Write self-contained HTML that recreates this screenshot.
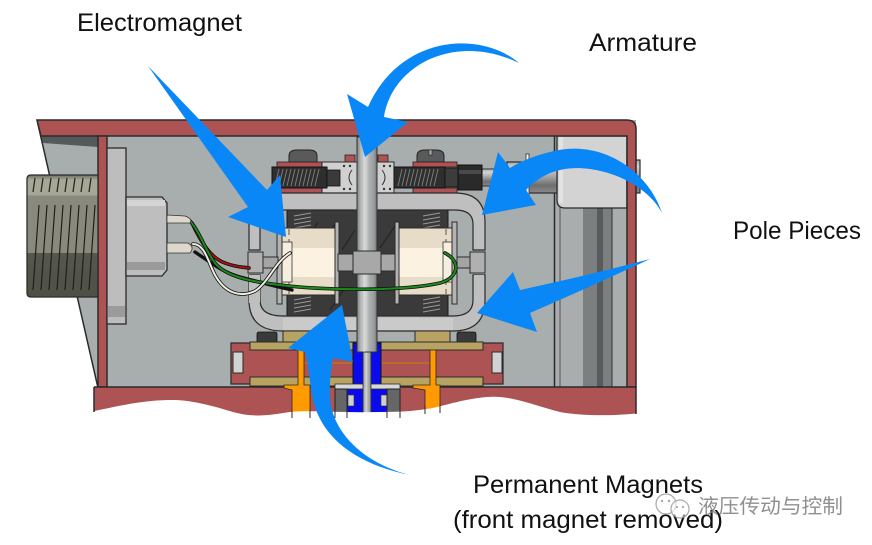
<!DOCTYPE html>
<html><head><meta charset="utf-8">
<style>html,body{margin:0;padding:0;background:#fff;}svg{display:block}</style>
</head>
<body>
<svg width="872" height="545" viewBox="0 0 872 545" xmlns="http://www.w3.org/2000/svg">
<defs>
  <linearGradient id="shaft" x1="0" x2="1" y1="0" y2="0">
    <stop offset="0" stop-color="#7d8181"/>
    <stop offset="0.2" stop-color="#b8bbbb"/>
    <stop offset="0.45" stop-color="#d2d4d4"/>
    <stop offset="0.6" stop-color="#aeb1b1"/>
    <stop offset="0.85" stop-color="#9a9d9d"/>
    <stop offset="1" stop-color="#6f7373"/>
  </linearGradient>
  <linearGradient id="rod" x1="0" x2="0" y1="0" y2="1">
    <stop offset="0" stop-color="#a9a9a9"/>
    <stop offset="0.2" stop-color="#d4d4d4"/>
    <stop offset="0.5" stop-color="#a0a0a0"/>
    <stop offset="0.75" stop-color="#6e6e6e"/>
    <stop offset="1" stop-color="#8a8a8a"/>
  </linearGradient>
  <linearGradient id="thread" x1="0" x2="0" y1="0" y2="1">
    <stop offset="0" stop-color="#6d6d62"/>
    <stop offset="0.04" stop-color="#a7a795"/>
    <stop offset="0.17" stop-color="#a7a795"/>
    <stop offset="0.17" stop-color="#8a8a7c"/>
    <stop offset="0.64" stop-color="#8a8a7c"/>
    <stop offset="0.64" stop-color="#56584d"/>
    <stop offset="1" stop-color="#4e5046"/>
  </linearGradient>
</defs>

<rect width="872" height="545" fill="#fff"/>

<!-- housing interior -->
<polygon points="37,120 636,120 636,390 98,390" fill="#a8adad"/>
<polygon points="41,136 98,136 98,147 43,143" fill="#545a5a"/>
<line x1="37" y1="120" x2="98" y2="388" stroke="#2b2b2b" stroke-width="1.5"/>

<!-- right rail column -->
<rect x="554" y="136" width="73" height="251" fill="#a9adad"/>
<rect x="583" y="136" width="14" height="251" fill="#7b7f7f"/>
<rect x="597" y="136" width="6" height="251" fill="#575b5b"/>
<rect x="603" y="136" width="9" height="251" fill="#7b7f7f"/>
<line x1="554.5" y1="136" x2="554.5" y2="387" stroke="#2b2b2b" stroke-width="1.5"/>
<line x1="560" y1="136" x2="560" y2="387" stroke="#555" stroke-width="1"/>
<line x1="612" y1="136" x2="612" y2="387" stroke="#333" stroke-width="1"/>
<path d="M557,136 L627,136 L627,208 L565,208 Q557,208 557,200 Z" fill="#d3d3d3" stroke="#2b2b2b" stroke-width="1.3"/>
<rect x="559" y="137" width="4" height="66" fill="#e2e2e2"/>

<!-- horizontal rod -->
<rect x="482" y="169" width="26" height="17" fill="url(#rod)" stroke="#333" stroke-width="1"/>
<rect x="507" y="162" width="50" height="31" fill="url(#rod)" stroke="#2b2b2b" stroke-width="1.2"/>
<rect x="526" y="154" width="3" height="44" fill="#f2f2f2" stroke="#333" stroke-width="0.8"/>
<rect x="627" y="160" width="13" height="33" fill="url(#rod)" stroke="#2b2b2b" stroke-width="1.2"/>

<!-- housing red top band + right wall -->
<path d="M37,120 L627,120 Q636,120 636,129 L636,387 L627,387 L627,136 L41,136 Z" fill="#ae5353" stroke="#2b2b2b" stroke-width="1.5"/>
<rect x="98" y="136" width="9" height="251" fill="#ae5353" stroke="#2b2b2b" stroke-width="1.5"/>

<!-- threaded cylinder -->
<path d="M31,175 L98,175 L98,297 L31,297 Q27,297 27,293 L27,179 Q27,175 31,175 Z" fill="url(#thread)" stroke="#2b2b2b" stroke-width="1.3"/>
<g stroke="#1e1e1e" stroke-width="1.2">
  <line x1="35" y1="178" x2="33" y2="192"/><line x1="43" y1="178" x2="41" y2="192"/><line x1="51" y1="178" x2="49" y2="192"/><line x1="59" y1="178" x2="57" y2="192"/><line x1="67" y1="178" x2="65" y2="192"/><line x1="75" y1="178" x2="73" y2="192"/><line x1="83" y1="178" x2="81" y2="192"/><line x1="91" y1="178" x2="89" y2="192"/>
  <line x1="39" y1="205" x2="33" y2="290"/><line x1="47" y1="205" x2="41" y2="290"/><line x1="55" y1="205" x2="49" y2="290"/><line x1="63" y1="205" x2="57" y2="290"/><line x1="71" y1="205" x2="65" y2="290"/><line x1="79" y1="205" x2="73" y2="290"/><line x1="87" y1="205" x2="81" y2="290"/><line x1="95" y1="205" x2="89" y2="290"/>
</g>

<!-- flange + connector -->
<rect x="107" y="148" width="19" height="176" fill="#bdbdbd" stroke="#2b2b2b" stroke-width="1.3"/>
<rect x="108" y="306" width="17" height="11" fill="#9b9b9b"/>
<path d="M126,197 L162,197 L167,203 L167,270 L162,276 L126,276 Z" fill="#bebebe" stroke="#2b2b2b" stroke-width="1.3"/>
<rect x="127" y="200" width="38" height="6" fill="#d4d4d4"/>
<rect x="127" y="262" width="38" height="8" fill="#9a9a9a"/>

<!-- top spring assembly -->
<path d="M289,162 L289,156 Q289,150 297,150 L309,150 Q317,150 317,156 L317,162 Z" fill="#5a5a5a" stroke="#222" stroke-width="1"/>
<path d="M417,162 L417,156 Q417,150 425,150 L436,150 Q444,150 444,156 L444,162 Z" fill="#5a5a5a" stroke="#222" stroke-width="1"/>
<rect x="429" y="150" width="3" height="5" fill="#a8adad" stroke="#222" stroke-width="0.6"/>
<rect x="345" y="155" width="10" height="7" fill="#ae5353" stroke="#222" stroke-width="0.8"/>
<rect x="378" y="155" width="10" height="7" fill="#ae5353" stroke="#222" stroke-width="0.8"/>
<rect x="277" y="162" width="45" height="5" fill="#ae5353" stroke="#222" stroke-width="0.8"/>
<rect x="277" y="188" width="45" height="5" fill="#ae5353" stroke="#222" stroke-width="0.8"/>
<rect x="413" y="162" width="44" height="5" fill="#ae5353" stroke="#222" stroke-width="0.8"/>
<rect x="413" y="188" width="44" height="5" fill="#ae5353" stroke="#222" stroke-width="0.8"/>
<rect x="322" y="162" width="35" height="31" fill="#d0d0d0" stroke="#2b2b2b" stroke-width="1"/>
<rect x="377" y="162" width="17" height="31" fill="#d0d0d0" stroke="#2b2b2b" stroke-width="1"/>
<rect x="272" y="167" width="55" height="21" fill="#2e2e2e" stroke="#111" stroke-width="1"/>
<rect x="394" y="167" width="51" height="21" fill="#2e2e2e" stroke="#111" stroke-width="1"/>
<g stroke="#7a7a7a" stroke-width="1">
  <line x1="275" y1="186" x2="279" y2="169"/><line x1="279" y1="186" x2="283" y2="169"/><line x1="283" y1="186" x2="287" y2="169"/><line x1="287" y1="186" x2="291" y2="169"/><line x1="291" y1="186" x2="295" y2="169"/><line x1="295" y1="186" x2="299" y2="169"/><line x1="299" y1="186" x2="303" y2="169"/><line x1="303" y1="186" x2="307" y2="169"/><line x1="307" y1="186" x2="311" y2="169"/><line x1="311" y1="186" x2="315" y2="169"/><line x1="315" y1="186" x2="319" y2="169"/>
  <line x1="398" y1="186" x2="402" y2="169"/><line x1="402" y1="186" x2="406" y2="169"/><line x1="406" y1="186" x2="410" y2="169"/><line x1="410" y1="186" x2="414" y2="169"/><line x1="414" y1="186" x2="418" y2="169"/><line x1="418" y1="186" x2="422" y2="169"/><line x1="422" y1="186" x2="426" y2="169"/><line x1="426" y1="186" x2="430" y2="169"/><line x1="430" y1="186" x2="434" y2="169"/><line x1="434" y1="186" x2="438" y2="169"/>
</g>
<rect x="327" y="170" width="13" height="16" fill="#3a3a3a" stroke="#111" stroke-width="0.8"/>
<rect x="445" y="168" width="13" height="19" fill="#3c3c3c" stroke="#111" stroke-width="0.8"/>
<rect x="458" y="165" width="24" height="25" fill="#2a2a2a" stroke="#111" stroke-width="1"/>
<rect x="459" y="170" width="22" height="4" fill="#4a4a4a"/>
<g fill="#333">
  <circle cx="344" cy="166" r="1.2"/><circle cx="350" cy="166" r="1.2"/><circle cx="344" cy="189" r="1.2"/><circle cx="350" cy="189" r="1.2"/>
  <circle cx="384" cy="166" r="1.2"/><circle cx="390" cy="166" r="1.2"/><circle cx="384" cy="189" r="1.2"/><circle cx="390" cy="189" r="1.2"/>
</g>
<path d="M352,170 Q346,177.5 352,185" fill="none" stroke="#333" stroke-width="1"/>
<path d="M382,170 Q388,177.5 382,185" fill="none" stroke="#333" stroke-width="1"/>

<!-- dark core -->
<rect x="287" y="210" width="161" height="106" fill="#3a3a3a" stroke="#1a1a1a" stroke-width="1"/>
<g stroke="#202020" stroke-width="1">
  <line x1="300" y1="250" x2="318" y2="222"/><line x1="320" y1="248" x2="336" y2="222"/>
  <line x1="342" y1="250" x2="355" y2="230"/><line x1="380" y1="248" x2="395" y2="226"/>
  <line x1="395" y1="300" x2="410" y2="278"/><line x1="330" y1="310" x2="345" y2="288"/>
</g>
<g stroke="#9a9a9a" stroke-width="1">
  <line x1="294" y1="216" x2="311" y2="213"/><line x1="294" y1="220" x2="311" y2="217"/><line x1="294" y1="224" x2="311" y2="221"/><line x1="294" y1="228" x2="311" y2="225"/>
  <line x1="294" y1="300" x2="311" y2="297"/><line x1="294" y1="304" x2="311" y2="301"/><line x1="294" y1="308" x2="311" y2="305"/><line x1="294" y1="312" x2="311" y2="309"/>
  <line x1="423" y1="216" x2="440" y2="213"/><line x1="423" y1="220" x2="440" y2="217"/><line x1="423" y1="224" x2="440" y2="221"/><line x1="423" y1="228" x2="440" y2="225"/>
  <line x1="423" y1="300" x2="440" y2="297"/><line x1="423" y1="304" x2="440" y2="301"/><line x1="423" y1="308" x2="440" y2="305"/><line x1="423" y1="312" x2="440" y2="309"/>
</g>

<!-- frame top -->
<path d="M249,250 L249,222 Q249,193 283,193 L455,193 Q485,193 485,222 L485,250 L473,250 L473,224 Q473,210 455,210 L283,210 Q260,210 260,224 L260,250 Z" fill="#bfbfbf" stroke="#2b2b2b" stroke-width="1.2"/>
<!-- frame bottom U -->
<path d="M249,275 L249,300 Q249,331 283,331 L453,331 Q485,331 485,300 L485,275 L473,275 L473,300 Q473,316 453,316 L283,316 Q260,316 260,300 L260,275 Z" fill="#bfbfbf" stroke="#2b2b2b" stroke-width="1.2"/>
<rect x="283" y="318" width="170" height="12" fill="#cacaca"/>

<!-- coils -->
<rect x="281" y="228" width="56" height="67" fill="#e7dcc8" stroke="#2b2b2b" stroke-width="1"/>
<rect x="282" y="248" width="54" height="29" fill="#fcf2e2"/>
<rect x="398" y="228" width="55" height="67" fill="#e7dcc8" stroke="#2b2b2b" stroke-width="1"/>
<rect x="399" y="248" width="53" height="29" fill="#fcf2e2"/>
<line x1="289" y1="229" x2="289" y2="294" stroke="#555" stroke-width="1" stroke-dasharray="6,4"/>
<line x1="446" y1="229" x2="446" y2="294" stroke="#555" stroke-width="1" stroke-dasharray="6,4"/>
<rect x="282" y="242" width="10" height="40" fill="#f6eedf" stroke="#333" stroke-width="0.8"/>
<rect x="443" y="242" width="10" height="40" fill="#f6eedf" stroke="#333" stroke-width="0.8"/>
<g fill="#b3b3b3" stroke="#2b2b2b" stroke-width="1">
  <rect x="277" y="222" width="5" height="82"/>
  <rect x="335" y="222" width="4" height="82"/>
  <rect x="395" y="222" width="4" height="82"/>
  <rect x="452" y="222" width="5" height="82"/>
</g>

<!-- bottom red band -->
<path d="M94,387 L636,387 L636,418 L94,418 Z" fill="#ae5353"/>
<line x1="94" y1="387" x2="636" y2="387" stroke="#2b2b2b" stroke-width="1.5"/>

<!-- lower assembly -->
<rect x="257" y="332" width="20" height="11" rx="2" fill="#3a3a3a" stroke="#111" stroke-width="0.8"/>
<rect x="457" y="332" width="19" height="11" rx="2" fill="#3a3a3a" stroke="#111" stroke-width="0.8"/>
<rect x="283" y="331" width="32" height="11" fill="#b9a363" stroke="#2b2b2b" stroke-width="1"/>
<rect x="415" y="331" width="35" height="11" fill="#b9a363" stroke="#2b2b2b" stroke-width="1"/>
<rect x="231" y="343" width="272" height="41" fill="#ae5353" stroke="#2b2b2b" stroke-width="1.2"/>
<rect x="233" y="352" width="10" height="21" fill="#d2d2d2" stroke="#2b2b2b" stroke-width="1"/>
<rect x="492" y="352" width="10" height="21" fill="#d2d2d2" stroke="#2b2b2b" stroke-width="1"/>
<rect x="250" y="342" width="233" height="8" fill="#b9a363" stroke="#2b2b2b" stroke-width="1"/>
<rect x="250" y="377" width="233" height="9" fill="#b9a363" stroke="#2b2b2b" stroke-width="1"/>
<line x1="304" y1="363" x2="430" y2="363" stroke="#c07a1a" stroke-width="1.3"/>
<polygon points="298,350 304,350 304,385 310,385 310,414 292,414 292,390 284,388 284,385 298,385" fill="#ff9a00" stroke="#2b2b2b" stroke-width="0.8"/>
<polygon points="430,350 436,350 436,385 440,385 440,414 425,414 425,390 413,388 413,385 430,385" fill="#ff9a00" stroke="#2b2b2b" stroke-width="0.8"/>
<rect x="353" y="343" width="28" height="41" fill="#0a0aee" stroke="#111" stroke-width="1"/>
<rect x="347" y="389" width="40" height="24" fill="#0a0aee" stroke="#111" stroke-width="1"/>
<rect x="348" y="395" width="6" height="11" fill="#cfcfcf" stroke="#333" stroke-width="0.6"/>
<rect x="381" y="395" width="6" height="11" fill="#cfcfcf" stroke="#333" stroke-width="0.6"/>
<rect x="335" y="384" width="65" height="5" fill="#d8d8d8" stroke="#2b2b2b" stroke-width="0.8"/>
<rect x="335" y="389" width="12" height="29" fill="#666" stroke="#222" stroke-width="1"/>
<rect x="387" y="389" width="13" height="29" fill="#666" stroke="#222" stroke-width="1"/>
<rect x="363" y="350" width="8" height="70" fill="url(#shaft)" stroke="#333" stroke-width="0.8"/>

<!-- white wave cut -->
<path d="M90,412 C130,403 150,400 173,400 C190,400 210,405 233,412 C255,418 270,415 290,412 C310,410 340,413 380,412 C400,412 420,411 437,407 C450,404 465,399 487,397 C510,395 530,404 560,412 C580,416 615,416 640,413 L640,445 L90,445 Z" fill="#fff"/>
<line x1="94" y1="387" x2="94" y2="412" stroke="#2b2b2b" stroke-width="1.5"/>
<line x1="636" y1="387" x2="636" y2="414" stroke="#2b2b2b" stroke-width="1.5"/>
<g stroke="#2b2b2b" stroke-width="1">
  <line x1="292" y1="410" x2="292" y2="418"/><line x1="310" y1="410" x2="310" y2="418"/>
  <line x1="335" y1="410" x2="335" y2="418"/><line x1="347" y1="410" x2="347" y2="418"/>
  <line x1="387" y1="410" x2="387" y2="418"/><line x1="400" y1="410" x2="400" y2="418"/>
  <line x1="425" y1="405" x2="425" y2="414"/><line x1="440" y1="404" x2="440" y2="413"/>
</g>

<!-- main shaft -->
<rect x="357" y="137" width="20" height="215" fill="url(#shaft)" stroke="#333" stroke-width="1"/>
<line x1="364" y1="137" x2="364" y2="352" stroke="#e6e6e6" stroke-width="0.8"/>

<!-- armature -->
<rect x="248" y="252" width="15" height="21" fill="#b0b0b0" stroke="#2b2b2b" stroke-width="1"/>
<rect x="263" y="257" width="15" height="11" fill="#a4a4a4" stroke="#2b2b2b" stroke-width="1"/>
<rect x="338" y="254" width="15" height="17" fill="#a8a8a8" stroke="#2b2b2b" stroke-width="1"/>
<rect x="353" y="251" width="28" height="23" fill="#a8a8a8" stroke="#2b2b2b" stroke-width="1"/>
<rect x="381" y="254" width="14" height="17" fill="#a8a8a8" stroke="#2b2b2b" stroke-width="1"/>
<rect x="457" y="257" width="13" height="11" fill="#a4a4a4" stroke="#2b2b2b" stroke-width="1"/>
<rect x="470" y="252" width="15" height="21" fill="#b0b0b0" stroke="#2b2b2b" stroke-width="1"/>

<!-- frame side segments -->
<rect x="249" y="275" width="11" height="28" fill="#bfbfbf"/>
<rect x="474" y="275" width="10" height="28" fill="#bfbfbf"/>

<!-- wires -->
<g fill="none" stroke-linecap="round">
  <path d="M192,223 C200,240 210,258 225,263 C235,267 242,267 249,268" stroke="#111" stroke-width="3.6"/>
  <path d="M192,223 C200,240 210,258 225,263 C235,267 242,267 249,268" stroke="#a31010" stroke-width="2"/>
  <path d="M195,252 C210,262 222,272 240,277 C255,281 270,285 292,290" stroke="#111" stroke-width="3.4"/>
  <path d="M190,221 C200,232 205,250 215,263 C225,275 245,281 280,285 C320,290 400,292 440,283 C458,278 462,262 445,253" stroke="#111" stroke-width="3.6"/>
  <path d="M190,221 C200,232 205,250 215,263 C225,275 245,281 280,285 C320,290 400,292 440,283 C458,278 462,262 445,253" stroke="#1b8a1b" stroke-width="2"/>
  <path d="M193,244 C205,244 208,262 215,275 C225,293 240,298 255,291 C268,283 275,262 290,253" stroke="#111" stroke-width="3.6"/>
  <path d="M193,244 C205,244 208,262 215,275 C225,293 240,298 255,291 C268,283 275,262 290,253" stroke="#f0efe0" stroke-width="2"/>
</g>
<path d="M167,215 L185,216 Q193,219 190,223 L167,223 Z" fill="#ddd8cc" stroke="#333" stroke-width="0.8"/>
<path d="M167,243 L188,243 Q195,247 190,253 L167,253 Z" fill="#ddd8cc" stroke="#333" stroke-width="0.8"/>

<!-- blue arrows -->
<g fill="#0a87f7">
  <path d="M148,66 L267,190 L280,175 L286,237 L228,217 L248,207 Z"/>
  <path d="M519,63 C480,30 400,35 368,107 L347,94 L365,157 L408,122 L384,117 C392,65 455,32 519,63 Z"/>
  <path d="M662,213 C648,170 600,138 550,152 C530,157 518,163 510,168 L498,152 L482,215 L536,205 L526,190 C540,175 560,165 590,169 C620,173 650,190 662,213 Z"/>
  <path d="M650,259 Q590,275 520,290 L513,272 L477,313 L537,332 L530,313 Q590,287 650,259 Z"/>
  <path d="M410,475 C360,465 320,440 312,395 C309,378 309,365 305,352 L288,348 L342,305 L353,362 L333,358 C330,375 328,395 332,410 C340,440 370,465 410,475 Z"/>
</g>

<!-- labels -->
<g font-family="'Liberation Sans', Arial, sans-serif" font-size="25" fill="#111">
  <text x="77" y="31" textLength="165" lengthAdjust="spacingAndGlyphs">Electromagnet</text>
  <text x="589" y="51" textLength="108" lengthAdjust="spacingAndGlyphs">Armature</text>
  <text x="733" y="239" textLength="128" lengthAdjust="spacingAndGlyphs">Pole Pieces</text>
  <text x="473" y="493" textLength="230" lengthAdjust="spacingAndGlyphs">Permanent Magnets</text>
  <text x="453" y="528" textLength="270" lengthAdjust="spacingAndGlyphs">(front magnet removed)</text>
</g>

<!-- watermark -->
<g opacity="0.85">
  <circle cx="666" cy="504" r="10" fill="none" stroke="#9a9a9a" stroke-width="1.2"/>
  <circle cx="680" cy="509" r="9" fill="#ffffff" fill-opacity="0.6" stroke="#9a9a9a" stroke-width="1.2"/>
  <circle cx="662" cy="501" r="1.2" fill="#9a9a9a"/><circle cx="669" cy="501" r="1.2" fill="#9a9a9a"/>
  <circle cx="677" cy="507" r="1.1" fill="#9a9a9a"/><circle cx="683" cy="507" r="1.1" fill="#9a9a9a"/>
  <text x="698" y="513" font-family="'Liberation Sans', 'Noto Sans CJK SC', sans-serif" font-size="20" fill="#7c7c7c" textLength="145" lengthAdjust="spacingAndGlyphs">液压传动与控制</text>
</g>
</svg>
</body></html>
